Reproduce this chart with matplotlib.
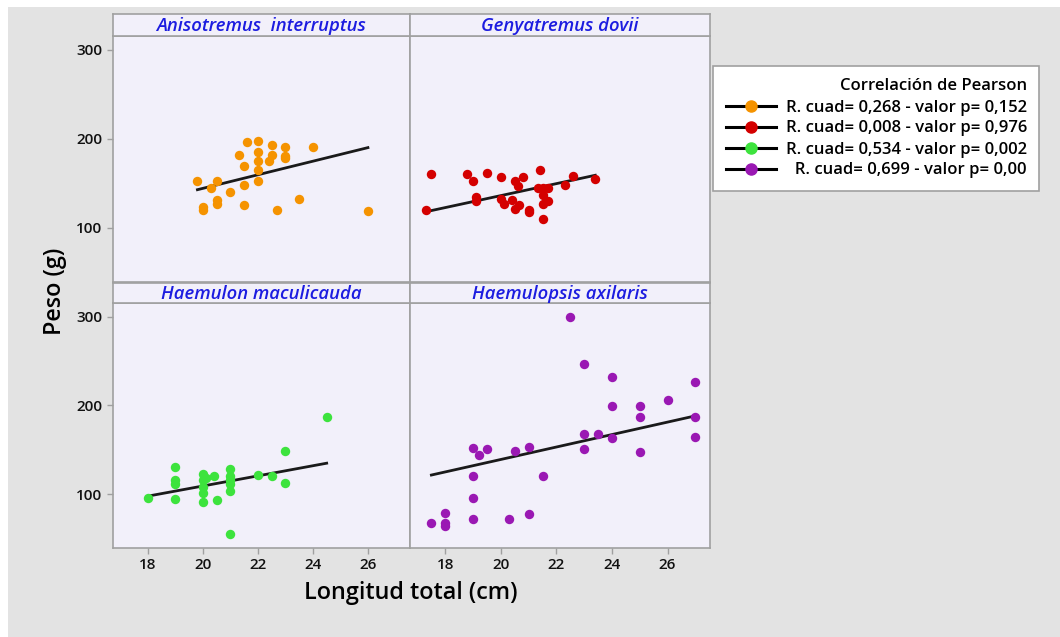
import numpy as np
import matplotlib
matplotlib.use("Agg")
from matplotlib import pyplot as plt
from matplotlib.lines import Line2D
from matplotlib.patches import Rectangle

plt.rcParams["font.family"] = ["Open Sans", "DejaVu Sans"]

SPECIES = [
    "Anisotremus  interruptus",
    "Genyatremus dovii",
    "Haemulon maculicauda",
    "Haemulopsis axilaris",
]
COLORS = ["#f59300", "#d40000", "#3de33d", "#9a18b3"]

X_ANIS = [19.8, 20.0, 20.0, 20.3, 20.5, 20.5, 20.5, 21.0, 21.3, 21.5, 21.5, 21.5,
          21.6, 22.0, 22.0, 22.0, 22.0, 22.0, 22.4, 22.5, 22.5, 22.7, 23.0, 23.0,
          23.0, 23.5, 24.0, 26.0]
Y_ANIS = [153, 123, 120, 145, 153, 131, 127, 140, 182, 170, 148, 126,
          196, 198, 185, 175, 165, 153, 175, 182, 193, 120, 191, 181,
          178, 133, 191, 119]

X_GENY = [17.3, 17.5, 18.8, 19.0, 19.1, 19.1, 19.5, 20.0, 20.0, 20.1, 20.4, 20.5,
          20.5, 20.6, 20.65, 20.8, 21.0, 21.0, 21.4, 21.35, 21.5, 21.5, 21.5, 21.5,
          21.7, 21.7, 22.3, 22.6, 23.4]
Y_GENY = [120, 160, 160, 153, 135, 130, 162, 157, 132, 127, 131, 153,
          121, 147, 126, 157, 120, 118, 165, 145, 145, 137, 127, 110,
          145, 130, 148, 158, 155]

X_HAEM = [18.0, 19.0, 19.0, 19.0, 19.0, 20.0, 20.0, 20.0, 20.0, 20.0, 20.1, 20.4,
          20.5, 21.0, 21.0, 21.0, 21.0, 21.0, 21.0, 22.0, 22.5, 23.0, 23.0, 24.5]
Y_HAEM = [96, 131, 116, 111, 95, 123, 116, 108, 101, 91, 118, 121,
          93, 128, 121, 116, 111, 104, 55, 122, 121, 149, 113, 187]

X_HLPS = [17.5, 18.0, 18.0, 18.0, 19.0, 19.2, 19.5, 19.0, 19.0, 19.0, 20.3, 20.5,
          21.0, 21.0, 21.5, 22.5, 23.0, 23.0, 23.0, 23.5, 24.0, 24.0, 24.0, 25.0,
          25.0, 25.0, 26.0, 27.0, 27.0, 27.0]
Y_HLPS = [68, 79, 68, 64, 152, 144, 151, 121, 96, 72, 72, 149,
          153, 78, 120, 300, 247, 168, 151, 168, 232, 199, 163, 199,
          187, 148, 206, 226, 187, 164]

# regression lines (slope, intercept)
FIT_SLOPE = [7.62, 6.72, 5.71, 7.02]
FIT_INTERCEPT = [-7.95, 1.9, -5.0, -1.3]

LEGEND_TITLE = "Correlación de Pearson"
LEGEND_LABELS = [
    "R. cuad= 0,268 - valor p= 0,152",
    "R. cuad= 0,008 - valor p= 0,976",
    "R. cuad= 0,534 - valor p= 0,002",
    "  R. cuad= 0,699 - valor p= 0,00",
]

XTICKS = [18, 20, 22, 24, 26]
YTICKS = [100, 200, 300]

DATA = [(X_ANIS, Y_ANIS), (X_GENY, Y_GENY), (X_HAEM, Y_HAEM), (X_HLPS, Y_HLPS)]

W, H = 1060, 637
BG = "#e3e3e3"
PANEL = "#f2f0fa"
EDGE = "#a0a0a0"

fig = plt.figure(figsize=(W / 100, H / 100), dpi=100, facecolor="white")
fig.patches.append(Rectangle((8 / W, 0), 1, 1 - 7 / H, transform=fig.transFigure,
                             facecolor=BG, edgecolor="none", zorder=-10))


def px(x0, y0, x1, y1):
    return [x0 / W, 1 - y1 / H, (x1 - x0) / W, (y1 - y0) / H]


cols = [(113, 410), (410, 710)]
rows = [(36, 282, 14), (303, 548, 283)]

for i in range(4):
    r, c = divmod(i, 2)
    x0, x1 = cols[c]
    y0, y1, ys = rows[r]
    ax = fig.add_axes(px(x0, y0, x1, y1))
    ax.set_facecolor(PANEL)
    xs, ys_ = DATA[i]
    ax.scatter(xs, ys_, s=46, color=COLORS[i], zorder=3, linewidths=0)
    xl = np.array([min(xs), max(xs)])
    ax.plot(xl, FIT_SLOPE[i] * xl + FIT_INTERCEPT[i], color="#1a1a1a", lw=2.0, zorder=2)
    ax.set_xlim(16.73, 27.53)
    ax.set_ylim(39.3, 315.5)
    ax.set_xticks(XTICKS)
    ax.set_yticks(YTICKS)
    for s in ax.spines.values():
        s.set_color(EDGE)
        s.set_linewidth(1.2)
    ax.tick_params(colors=EDGE, labelcolor="#111111", length=4, width=1,
                   labelsize=11)
    if c == 1:
        ax.tick_params(axis="y", left=False, labelleft=False)
    if r == 0:
        ax.tick_params(axis="x", bottom=False, labelbottom=False)
    for lab in ax.get_xticklabels() + ax.get_yticklabels():
        lab.set_fontweight("semibold")

    sax = fig.add_axes(px(x0, ys, x1, y0))
    sax.set_facecolor(PANEL)
    sax.set_xticks([])
    sax.set_yticks([])
    for s in sax.spines.values():
        s.set_color(EDGE)
        s.set_linewidth(1.2)
    sax.text(0.5, 0.45, SPECIES[i], ha="center", va="center", color="#1c1ce0",
             fontsize=13.3, fontstyle="italic", fontweight="semibold",
             transform=sax.transAxes)

fig.text(411 / W, 1 - 593 / H, "Longitud total (cm)", ha="center", va="center",
         fontsize=16.8, fontweight="semibold")
fig.text(55 / W, 1 - 291 / H, "Peso (g)", ha="center", va="center", rotation=90,
         fontsize=16.8, fontweight="semibold")

handles = [Line2D([], [], color="black", lw=2.2, marker="o", markersize=8,
                  markerfacecolor=c, markeredgecolor=c) for c in COLORS]
leg = fig.legend(handles, LEGEND_LABELS, title=LEGEND_TITLE, loc="upper left",
                 bbox_to_anchor=(713 / W, 1 - 66 / H), borderaxespad=0,
                 frameon=True, fancybox=False, edgecolor=EDGE, facecolor="white",
                 framealpha=1, handlelength=3.0, handletextpad=0.6,
                 labelspacing=0.3, alignment="right", borderpad=0.75,
                 prop={"size": 12, "weight": "semibold"},
                 title_fontproperties={"size": 12, "weight": "semibold"})
leg.get_frame().set_linewidth(1.2)

fig.savefig("out.png", dpi=100)
